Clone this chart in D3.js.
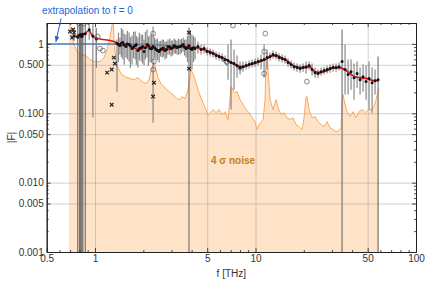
<!DOCTYPE html>
<html><head><meta charset="utf-8">
<script src="https://cdn.jsdelivr.net/npm/d3@7"></script>
<style>body{margin:0;background:#fff;} svg{display:block;font-family:"Liberation Sans",Arial,sans-serif;}</style>
</head><body><svg id="c" width="436" height="283"></svg>
<script>
// ---- data ----
const noiseF=[0.689,0.709,0.740,0.772,0.818,0.879,0.930,1.000,1.074,1.138,
1.188,1.240,1.276,1.294,1.313,1.352,1.391,1.452,1.537,1.652,
1.750,1.853,1.962,2.078,2.170,2.265,2.33,2.399,2.469,2.577,
2.730,2.891,3.061,3.242,3.39,3.483,3.636,3.796,3.907,3.963,
4.079,4.20,4.445,4.708,4.915,5.06,5.208,5.438,5.677,5.927,
6.187,6.46,6.744,7.04,7.14,7.35,7.673,8.011,8.364,8.731,
9.116,9.517,9.935,10.22,10.52,10.83,11.15,11.47,11.64,11.80,
11.97,12.32,12.86,13.43,13.82,14.43,15.06,15.71,16.41,17.12,
17.89,18.68,19.5,20.07,20.65,20.93,21.56,22.51,23.50,24.53,
25.61,26.74,27.92,29.14,30.42,31.76,33.16,34.14,34.62,35.1,
36.14,37.2,38.8,40.5,42.3,44.2,46.1,48.4,50.3,52.5,
54.8,56.4,58.0,58.8];
const noiseV=[2.5,1.362,0.977,0.774,0.701,0.678,0.594,0.555,0.555,0.634,
0.827,1.233,1.84,2.5,1.153,0.537,0.455,0.373,0.337,0.316,
0.305,0.326,0.286,0.267,0.305,0.455,0.555,0.426,0.326,0.267,
0.234,0.205,0.186,0.162,0.157,0.174,0.162,0.219,0.326,0.426,
0.373,0.305,0.198,0.142,0.113,0.0923,0.102,0.113,0.102,0.113,
0.0954,0.1054,0.0808,0.242,0.234,0.198,0.205,0.157,0.133,0.113,
0.102,0.0864,0.0756,0.058,0.0685,0.0756,0.0808,0.157,0.594,0.749,
0.426,0.157,0.113,0.157,0.120,0.0954,0.102,0.0864,0.0808,0.0864,
0.0685,0.064,0.058,0.0864,0.174,0.174,0.113,0.0864,0.0893,0.0756,
0.0685,0.064,0.0756,0.062,0.058,0.0543,0.0561,0.062,0.157,0.186,
0.133,0.1054,0.0893,0.1054,0.0864,0.1054,0.113,0.102,0.113,0.113,
0.1245,0.157,0.205,0.2265];

const fitF=[0.75,0.806,0.866,0.917,0.971,1.371,1.473,1.582,1.725,1.907,2.108,2.298,2.54,2.809,3.151,3.533,3.907,4.32,4.708,5.2,6.01,6.94,7.67,8.36,9.24,10.67,11.79,12.66,13.61,14.84,15.71,17.12,18.93,20.93,21.85,22.81,25.22,27.89,30.39,33.6,36.11,38.8,41.68,44.77,49.5,53.95,58.8];
const fitV=[1.27,1.36,1.41,1.56,1.27,1.04,0.945,1.01,0.884,0.827,0.914,0.884,0.80,0.827,0.884,0.914,0.884,0.884,0.827,0.774,0.656,0.555,0.486,0.470,0.503,0.555,0.613,0.678,0.678,0.613,0.574,0.486,0.455,0.455,0.470,0.412,0.385,0.412,0.455,0.455,0.426,0.373,0.337,0.326,0.316,0.296,0.296];

const blueF=[0.5,1.371,1.725,2.298,2.809,3.533,3.907,4.32,4.708,5.2,6.01,6.6,6.94,7.67,8.0,8.36,9.24,10.67,11.79,12.66,13.61,14.84,15.71,17.12,18.93,20.93,21.85,22.81,25.22,27.89,30.39,33.6,36.11,38.8,41.68,44.77,49.5,53.95,58.8];
const blueV=[1,1,0.99,0.98,0.95,0.93,0.90,0.88,0.83,0.77,0.65,0.50,0.55,0.48,0.42,0.46,0.50,0.55,0.61,0.67,0.67,0.61,0.57,0.49,0.455,0.455,0.47,0.41,0.385,0.41,0.45,0.45,0.42,0.37,0.335,0.325,0.315,0.295,0.295];

const dataF=[0.74,0.78,0.80,0.81,0.82,0.83,0.84,0.87,0.92,0.97,1.02,
1.37,1.43,1.49,1.56,1.63,1.70,1.78,1.85,1.94,2.02,2.11,2.20,2.30,2.40,2.51,2.62,2.73,2.85,2.98,3.11,3.24,3.39,3.54,3.69,3.85,4.02,4.20,4.38,4.58,4.78,4.99,5.21,5.44,5.68,5.93,6.19,6.46,6.74,7.04,7.35,7.67,8.01,8.36,8.73,9.12,9.52,9.94,10.37,10.83,11.31,11.80,12.32,12.86,13.43,14.02,14.64,15.28,15.95,16.65,17.39,18.15,18.95,19.78,20.65,21.56,22.51,23.50,24.53,25.61,26.74,27.92,29.14,30.42,31.76,33.16,34.62,36.14,37.73,39.39,41.12,42.93,44.82,46.79,48.85,51.00,53.24,55.58,58.03,
1.40,1.46,1.52,1.59,1.66,1.74,1.81,1.89,1.98,2.06,2.15,2.25,2.35,2.45,2.56,2.67,2.79,2.92,3.04,3.17,3.31,3.46,3.61,3.77,3.93,4.11];
const dataV=[1.30,1.25,1.33,1.36,1.30,1.28,1.38,1.40,1.60,1.30,1.18,
1.01,0.945,1.044,0.914,0.977,0.855,0.945,0.800,0.884,0.774,0.977,0.855,0.914,0.827,0.774,0.855,0.800,0.914,0.855,0.945,0.884,0.914,0.977,0.855,0.945,0.827,0.855,0.914,0.827,0.855,0.774,0.749,0.724,0.678,0.656,0.634,0.594,0.574,0.537,0.520,0.486,0.455,0.470,0.486,0.503,0.520,0.537,0.555,0.574,0.594,0.634,0.656,0.701,0.678,0.634,0.614,0.594,0.537,0.503,0.470,0.455,0.440,0.455,0.470,0.486,0.426,0.385,0.373,0.398,0.412,0.426,0.440,0.455,0.455,0.470,0.555,0.426,0.361,0.398,0.326,0.373,0.305,0.337,0.286,0.316,0.276,0.295,0.305,
0.98,1.02,0.96,1.00,0.93,0.90,0.97,0.86,0.92,0.88,0.94,0.85,0.88,0.80,0.83,0.87,0.84,0.90,0.88,0.92,0.90,0.94,0.90,0.88,0.86,0.88];
const errLo=[1.1,0.001,0.001,0.001,0.001,0.001,0.001,0.001,1.15,0.087,0.45,
0.205,0.701,0.594,0.634,0.555,0.503,0.594,0.455,0.555,0.486,0.634,0.537,0.0732,0.594,0.537,0.634,0.594,0.701,0.656,0.724,0.701,0.701,0.774,0.634,0.001,0.426,0.594,0.724,0.701,0.724,0.678,0.656,0.634,0.594,0.574,0.555,0.520,0.305,0.113,0.219,0.326,0.361,0.398,0.426,0.440,0.455,0.470,0.486,0.426,0.326,0.426,0.574,0.614,0.594,0.555,0.537,0.520,0.470,0.440,0.412,0.398,0.385,0.398,0.373,0.426,0.349,0.326,0.326,0.349,0.361,0.373,0.385,0.398,0.398,0.412,0.001,0.186,0.186,0.219,0.157,0.234,0.186,0.205,0.157,0.113,0.102,0.186,0.001,
0.55,0.64,0.50,0.60,0.45,0.62,0.50,0.58,0.52,0.60,0.48,0.55,0.62,0.58,0.66,0.65,0.62,0.70,0.68,0.72,0.70,0.74,0.68,0.55,0.40,0.55];
const errHi=[1.6,2.5,2.5,2.5,2.5,2.5,2.5,2.5,2.2,2.2,1.7,
1.153,1.233,1.609,1.362,1.456,1.318,1.505,1.233,1.362,1.153,1.609,1.318,1.777,1.153,1.079,1.153,1.079,1.153,1.116,1.192,1.116,1.153,1.233,1.153,1.719,1.362,1.233,1.079,0.977,0.977,0.884,0.855,0.827,0.774,0.749,0.724,0.678,0.977,1.153,0.827,0.678,0.555,0.555,0.555,0.574,0.594,0.614,0.634,0.701,0.977,0.827,0.749,0.800,0.774,0.724,0.701,0.678,0.614,0.574,0.537,0.520,0.503,0.520,0.555,0.555,0.520,0.455,0.426,0.455,0.470,0.486,0.503,0.520,0.520,0.537,1.609,0.977,0.594,0.594,0.520,0.555,0.455,0.503,0.486,0.555,0.455,0.426,0.656,
1.45,1.70,1.40,1.55,1.25,1.50,1.30,1.45,1.35,1.50,1.28,1.40,1.25,1.20,1.10,1.15,1.08,1.20,1.12,1.15,1.20,1.18,1.15,1.30,1.55,1.30];

const circF=[0.795,0.853,1.04,1.074,1.12,2.30,2.33,2.30,7.24,11.5,11.3,11.3,20.9];
const circV=[1.963,1.963,1.274,0.855,0.80,1.408,0.555,0.426,1.84,1.408,0.774,0.373,0.286];

const crossF=[0.698,0.73,0.74,0.72,1.31,1.33,1.27,1.19,1.27,2.33,2.30,3.85,3.85];
const crossV=[1.505,1.609,1.456,1.233,0.634,0.520,0.426,0.385,0.133,0.276,0.174,1.456,0.440];

const xMajor=[0.5,1,5,10,50,100];
const xMinor=[0.6,0.7,0.8,0.9,2,3,4,6,7,8,9,20,30,40,60,70,80,90];
const yMajor=[0.001,0.005,0.01,0.05,0.1,0.5,1];
const yLabels=["0.001","0.005","0.010","0.050","0.100","0.500","1"];
const yMinor=[0.002,0.003,0.004,0.006,0.007,0.008,0.009,0.02,0.03,0.04,0.06,0.07,0.08,0.09,0.2,0.3,0.4,0.6,0.7,0.8,0.9,2];
const xGrid=[1,5,10,50];
const yGrid=[0.005,0.01,0.05,0.1,0.5,1];

// ---- drawing ----
const svg=d3.select("#c");
const x=d3.scaleLog().domain([0.5,100]).range([46.7,416]);
const y=d3.scaleLog().domain([0.001,2]).range([252,23]);
const [X0,X1]=x.range(), [Y0,Y1]=y.range();
const PW=X1-X0, PH=Y0-Y1;

svg.append("defs").append("clipPath").attr("id","clip").append("rect")
  .attr("x",X0).attr("y",Y1).attr("width",PW).attr("height",PH);
const mk=svg.select("defs").append("marker").attr("id","arr").attr("viewBox","0 0 10 10")
  .attr("refX",9).attr("refY",5).attr("markerWidth",6).attr("markerHeight",6).attr("orient","auto");
mk.append("path").attr("d","M0,1 L10,5 L0,9 Z").attr("fill","#1a66d4");

const g=svg.append("g").attr("clip-path","url(#clip)");

const noise=noiseF.map((f,i)=>({f,v:noiseV[i]}));
g.append("path").datum(noise).attr("fill","#fee3c9")
  .attr("d",d3.area().x(d=>x(d.f)).y0(Y0).y1(d=>y(d.v)));

// grid
g.append("g").attr("transform",`translate(0,${Y0})`)
  .call(d3.axisBottom(x).tickValues(xGrid).tickSize(-PH).tickFormat(""))
  .call(s=>s.select(".domain").remove())
  .selectAll("line").attr("stroke","#999").attr("stroke-opacity",0.45);
g.append("g").attr("transform",`translate(${X0},0)`)
  .call(d3.axisLeft(y).tickValues(yGrid).tickSize(-PW).tickFormat(""))
  .call(s=>s.select(".domain").remove())
  .selectAll("line").attr("stroke","#999").attr("stroke-opacity",0.45);

// noise line
g.append("path").datum(noise).attr("fill","none").attr("stroke","#f9a85c").attr("stroke-width",1)
  .attr("d",d3.line().x(d=>x(d.f)).y(d=>y(d.v)));

// blue fit
g.append("path").datum(blueF.map((f,i)=>({f,v:blueV[i]}))).attr("fill","none")
  .attr("stroke","#4f7fc0").attr("stroke-width",1.5)
  .attr("d",d3.line().x(d=>x(d.f)).y(d=>y(d.v)));

// error bars
const data=dataF.map((f,i)=>({f,v:dataV[i],lo:errLo[i],hi:errHi[i]}));
g.append("g").selectAll("line").data(data).join("line")
  .attr("x1",d=>x(d.f)).attr("x2",d=>x(d.f))
  .attr("y1",d=>y(d.lo)).attr("y2",d=>y(d.hi))
  .attr("stroke",d=>d.lo<=0.001?"#6a6a6a":"#7c7c7c")
  .attr("stroke-opacity",0.9).attr("stroke-width",1.2);

// red fit
g.append("path").datum(fitF.map((f,i)=>({f,v:fitV[i]}))).attr("fill","none")
  .attr("stroke","#e5141b").attr("stroke-width",1.6)
  .attr("d",d3.line().curve(d3.curveMonotoneX).x(d=>x(d.f)).y(d=>y(d.v)));

// dots
g.append("g").selectAll("circle").data(data).join("circle")
  .attr("cx",d=>x(d.f)).attr("cy",d=>y(d.v)).attr("r",1.5).attr("fill","#111");

// open circles
g.append("g").selectAll("circle").data(circF.map((f,i)=>({f,v:circV[i]}))).join("circle")
  .attr("cx",d=>x(d.f)).attr("cy",d=>y(d.v)).attr("r",2.4)
  .attr("fill","none").attr("stroke","#6a6a6a").attr("stroke-width",0.8);

// crosses
g.append("g").selectAll("path").data(crossF.map((f,i)=>({f,v:crossV[i]}))).join("path")
  .attr("transform",d=>`translate(${x(d.f)},${y(d.v)})`)
  .attr("d","M-1.8,-1.8L1.8,1.8M-1.8,1.8L1.8,-1.8")
  .attr("stroke","#222").attr("stroke-width",1.2);

// frame + ticks
function style(s){
  s.select(".domain").attr("stroke","#222").attr("stroke-width",1);
  s.selectAll(".tick line").attr("stroke","#222").attr("stroke-width",0.8);
  s.selectAll("text").attr("fill","#333").attr("font-size","10px").attr("font-family","'Liberation Sans',Arial,sans-serif");
}
const fmtX=d=>String(d);
svg.append("g").attr("transform",`translate(0,${Y0})`)
  .call(d3.axisBottom(x).tickValues(xMajor).tickSizeInner(-4).tickSizeOuter(0).tickPadding(3).tickFormat(fmtX)).call(style);
svg.append("g").attr("transform",`translate(0,${Y0})`)
  .call(d3.axisBottom(x).tickValues(xMinor).tickSizeInner(-2).tickSizeOuter(0).tickFormat("")).call(style);
svg.append("g").attr("transform",`translate(0,${Y1})`)
  .call(d3.axisTop(x).tickValues(xMajor).tickSizeInner(-4).tickSizeOuter(0).tickFormat("")).call(style);
svg.append("g").attr("transform",`translate(0,${Y1})`)
  .call(d3.axisTop(x).tickValues(xMinor).tickSizeInner(-2).tickSizeOuter(0).tickFormat("")).call(style);
svg.append("g").attr("transform",`translate(${X0},0)`)
  .call(d3.axisLeft(y).tickValues(yMajor).tickSizeInner(-4).tickSizeOuter(0).tickPadding(3).tickFormat((d,i)=>yLabels[i])).call(style);
svg.append("g").attr("transform",`translate(${X0},0)`)
  .call(d3.axisLeft(y).tickValues(yMinor).tickSizeInner(-2).tickSizeOuter(0).tickFormat("")).call(style);
svg.append("g").attr("transform",`translate(${X1},0)`)
  .call(d3.axisRight(y).tickValues(yMajor).tickSizeInner(-4).tickSizeOuter(0).tickFormat("")).call(style);
svg.append("g").attr("transform",`translate(${X1},0)`)
  .call(d3.axisRight(y).tickValues(yMinor).tickSizeInner(-2).tickSizeOuter(0).tickFormat("")).call(style);

// axis titles
svg.append("text").attr("x",(X0+X1)/2).attr("y",277).attr("text-anchor","middle")
  .attr("font-size","10px").attr("fill","#333").text("f [THz]");
svg.append("text").attr("transform",`translate(15,${(Y0+Y1)/2}) rotate(-90)`).attr("text-anchor","middle")
  .attr("font-size","10px").attr("fill","#333").text("|F|");

// annotations
svg.append("text").attr("x",42).attr("y",14).attr("font-size","10px").attr("fill","#1a66d4")
  .text("extrapolation to f = 0");
svg.append("line").attr("x1",x(0.614)).attr("y1",y(2.32)).attr("x2",x(0.571)).attr("y2",y(1.08))
  .attr("stroke","#1a66d4").attr("stroke-width",1).attr("marker-end","url(#arr)");
svg.append("text").attr("x",x(5.28)).attr("y",y(0.0209)+3.5).attr("font-size","10px").attr("font-weight","bold")
  .attr("fill","#c47f1c").text("4 σ noise");
</script></body></html>
